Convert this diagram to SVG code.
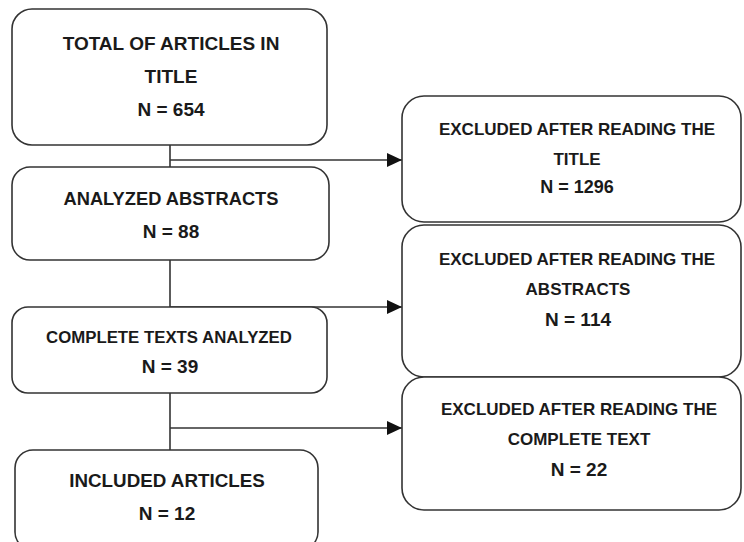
<svg xmlns="http://www.w3.org/2000/svg" width="744" height="542" viewBox="0 0 744 542">
<style>
.box{fill:#ffffff;stroke:#333333;stroke-width:1.6}
.t{font-family:"Liberation Sans",Arial,sans-serif;font-weight:bold;fill:#1a1a1a;text-anchor:middle}
.conn{fill:none;stroke:#333333;stroke-width:1.6}
</style>
<defs>
<marker id="ah" markerUnits="userSpaceOnUse" markerWidth="16" markerHeight="14" refX="15" refY="7" orient="auto">
<path d="M0,0 L15,7 L0,14 Z" fill="#111111"/>
</marker>
</defs>
<rect width="744" height="542" fill="#ffffff"/>
<g id="connectors">
<path class="conn" d="M170,145 V167"/>
<path class="conn" d="M170,160 H402" marker-end="url(#ah)"/>
<path class="conn" d="M170,260 V307"/>
<path class="conn" d="M170,307 H402" marker-end="url(#ah)"/>
<path class="conn" d="M170,393 V450"/>
<path class="conn" d="M170,428 H402" marker-end="url(#ah)"/>
</g>
<g id="total">
<rect class="box" x="12" y="9" width="315" height="136" rx="20"/>
<text class="t" x="171" y="50" font-size="19">TOTAL OF ARTICLES IN</text>
<text class="t" x="171" y="83" font-size="19">TITLE</text>
<text class="t" x="171" y="116" font-size="19">N = 654</text>
</g>
<g id="abstracts">
<rect class="box" x="12" y="167" width="317" height="93" rx="18"/>
<text class="t" x="171" y="205" font-size="18.3">ANALYZED ABSTRACTS</text>
<text class="t" x="171" y="238" font-size="19">N = 88</text>
</g>
<g id="complete">
<rect class="box" x="12" y="307" width="315" height="86" rx="16"/>
<text class="t" x="169" y="343" font-size="16.8">COMPLETE TEXTS ANALYZED</text>
<text class="t" x="170" y="373" font-size="19">N = 39</text>
</g>
<g id="included">
<rect class="box" x="15" y="450" width="303" height="100" rx="18"/>
<text class="t" x="167" y="487" font-size="18.8">INCLUDED ARTICLES</text>
<text class="t" x="167" y="520" font-size="19">N = 12</text>
</g>
<g id="excl-title">
<rect class="box" x="402" y="96" width="339" height="126" rx="22"/>
<text class="t" x="577" y="135" font-size="17">EXCLUDED AFTER READING THE</text>
<text class="t" x="577" y="165" font-size="17">TITLE</text>
<text class="t" x="577" y="193" font-size="18">N = 1296</text>
</g>
<g id="excl-abstracts">
<rect class="box" x="402" y="225" width="339" height="152" rx="22"/>
<text class="t" x="577" y="265" font-size="17">EXCLUDED AFTER READING THE</text>
<text class="t" x="578" y="295" font-size="17">ABSTRACTS</text>
<text class="t" x="578" y="326" font-size="19">N = 114</text>
</g>
<g id="excl-complete">
<rect class="box" x="402" y="377" width="339" height="133" rx="22"/>
<text class="t" x="579" y="415" font-size="17">EXCLUDED AFTER READING THE</text>
<text class="t" x="579" y="445" font-size="17">COMPLETE TEXT</text>
<text class="t" x="579" y="476" font-size="19">N = 22</text>
</g>
</svg>
